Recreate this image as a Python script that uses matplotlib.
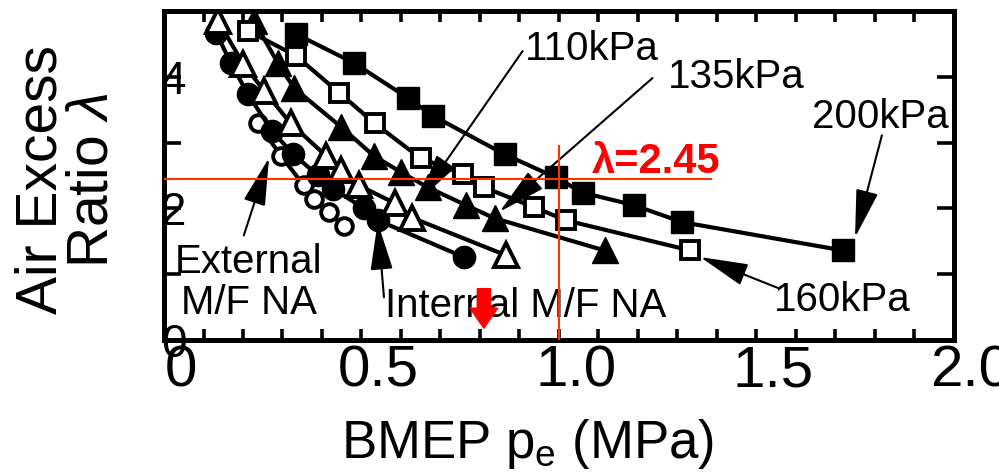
import matplotlib
matplotlib.use("Agg")
import matplotlib.pyplot as plt
from matplotlib.ticker import MultipleLocator, FixedLocator
from matplotlib.transforms import ScaledTranslation

plt.rcParams["font.family"] = ["Liberation Sans", "DejaVu Sans"]
plt.rcParams["mathtext.fontset"] = "custom"
plt.rcParams["mathtext.rm"] = "Liberation Sans"
plt.rcParams["mathtext.it"] = "Liberation Sans:italic"

# BMEP (MPa) / air excess ratio
ext_x = [0.238, 0.296, 0.354, 0.379, 0.417, 0.455]
ext_y = [3.29, 2.80, 2.35, 2.15, 1.94, 1.73]

int_x = [0.132, 0.169, 0.212, 0.273, 0.326, 0.390, 0.428, 0.506, 0.541, 0.759]
int_y = [4.67, 4.21, 3.74, 3.18, 2.83, 2.50, 2.30, 2.00, 1.82, 1.26]

p110_x = [0.137, 0.200, 0.253, 0.321, 0.410, 0.448, 0.493, 0.584, 0.627, 0.865]
p110_y = [4.85, 4.20, 3.79, 3.29, 2.80, 2.58, 2.35, 2.08, 1.86, 1.29]

p135_x = [0.228, 0.288, 0.329, 0.448, 0.531, 0.600, 0.668, 0.764, 0.837, 1.116]
p135_y = [4.85, 4.21, 3.83, 3.24, 2.80, 2.55, 2.32, 2.05, 1.85, 1.36]

p160_x = [0.212, 0.334, 0.443, 0.534, 0.650, 0.756, 0.810, 0.936, 1.017, 1.333]
p160_y = [4.70, 4.32, 3.76, 3.29, 2.76, 2.53, 2.32, 2.02, 1.82, 1.36]

p200_x = [0.334, 0.481, 0.617, 0.680, 0.863, 0.992, 1.060, 1.189, 1.313, 1.720]
p200_y = [4.65, 4.21, 3.68, 3.41, 2.82, 2.47, 2.24, 2.05, 1.79, 1.36]

lam_target = 2.45
bmep_target = 1.0

x_ticks = [0, 0.5, 1.0, 1.5, 2.0]
x_labels = ["0", "0.5", "1.0", "1.5", "2.0"]
y_ticks = [0, 2, 4]
y_labels = ["0", "2", "4"]

fig = plt.figure(figsize=(9.99, 4.73), dpi=100)
ax = fig.add_axes([0.1642, 0.2812, 0.7905, 0.6956])

lw = 3.0
ax.plot(ext_x, ext_y, "-o", color="k", lw=lw, ms=12, mfc="white", mec="k", mew=2.8)
ax.plot(int_x, int_y, "-o", color="k", lw=lw, ms=16, mfc="k", mec="k")
ax.plot(p110_x, p110_y, "-^", color="k", lw=lw, ms=17, mfc="white", mec="k", mew=2.8)
ax.plot(p135_x, p135_y, "-^", color="k", lw=lw, ms=19, mfc="k", mec="k")
ax.plot(p160_x, p160_y, "-s", color="k", lw=lw, ms=13.5, mfc="white", mec="k", mew=2.8)
ax.plot(p200_x, p200_y, "-s", color="k", lw=lw, ms=15.5, mfc="k", mec="k")

# red guide lines
ax.plot([0, 1.384], [lam_target, lam_target], color="#ff3300", lw=1.5, zorder=5)
ax.plot([bmep_target, bmep_target], [0, 2.95], color="#ff3300", lw=1.5, zorder=5)
ax.text(1.247, 2.71, "λ=2.45", color="#ff0000", fontsize=30, fontweight="bold",
        ha="center", va="center")

arrow = dict(arrowstyle="-|>,head_length=3.0,head_width=0.7", color="k", lw=1.5,
             mutation_scale=10, shrinkA=0, shrinkB=0)
ax.annotate("", xy=(0.645, 2.12), xytext=(0.908, 4.39), arrowprops=arrow)
ax.annotate("", xy=(0.850, 1.95), xytext=(1.237, 3.98), arrowprops=arrow)
ax.annotate("", xy=(1.750, 1.56), xytext=(1.818, 3.11), arrowprops=arrow)
ax.annotate("", xy=(1.358, 1.26), xytext=(1.555, 0.79), arrowprops=arrow)
ax.annotate("", xy=(0.266, 2.77), xytext=(0.202, 1.59), arrowprops=arrow)
ax.annotate("", xy=(0.541, 1.79), xytext=(0.557, 0.65), arrowprops=arrow)

fs = 29
ax.text(1.083, 4.42, "110kPa", fontsize=fs, ha="center", va="center")
ax.text(1.450, 4.00, "135kPa", fontsize=fs, ha="center", va="center")
ax.text(1.814, 3.39, "200kPa", fontsize=fs, ha="center", va="center")
ax.text(1.717, 0.61, "160kPa", fontsize=fs, ha="center", va="center")
ax.text(0.215, 0.88, "External\nM/F NA", fontsize=fs, ha="center", va="center",
        linespacing=1.1)
ax.text(0.916, 0.52, "Internal M/F NA", fontsize=fs, ha="center", va="center")

ax.annotate("", xy=(0.81, 0.18), xytext=(0.81, 0.78),
            arrowprops=dict(arrowstyle="simple,head_length=1.44,head_width=2.0,tail_width=0.94",
                            color="#ff0000", mutation_scale=10, shrinkA=0, shrinkB=0),
            zorder=6)

ax.set_xlim(0, 2.0)
ax.set_ylim(0, 5)
ax.xaxis.set_major_locator(FixedLocator(x_ticks))
ax.xaxis.set_minor_locator(MultipleLocator(0.1))
ax.set_xticklabels(x_labels)
ax.yaxis.set_major_locator(FixedLocator(y_ticks))
ax.yaxis.set_minor_locator(MultipleLocator(1))
ax.set_yticklabels(y_labels)

for s in ax.spines.values():
    s.set_linewidth(3.6)
ax.tick_params(which="both", direction="in", top=True, right=True, width=2.6)
ax.tick_params(axis="x", which="both", length=8, labelsize=42, pad=3)
ax.tick_params(axis="y", which="both", length=12, labelsize=33, pad=-7)

for lbl in ax.get_xticklabels():
    lbl.set_family(["Liberation Sans Narrow", "Liberation Sans"])
    lbl.set_transform(lbl.get_transform() + ScaledTranslation(0.17, 0, fig.dpi_scale_trans))
for lbl in ax.get_yticklabels():
    lbl.set_ha("center")

ax.set_xlabel(r"BMEP $\mathrm{p_e}$ (MPa)", fontsize=38)
ax.xaxis.set_label_coords(0.46, -0.234)
fig.text(67 / 999, 1 - 180 / 473, "Air Excess\nRatio $\\lambda$", fontsize=41,
         rotation=90, ha="center", va="center", multialignment="center", linespacing=0.95)

fig.savefig("out.png", dpi=100)
